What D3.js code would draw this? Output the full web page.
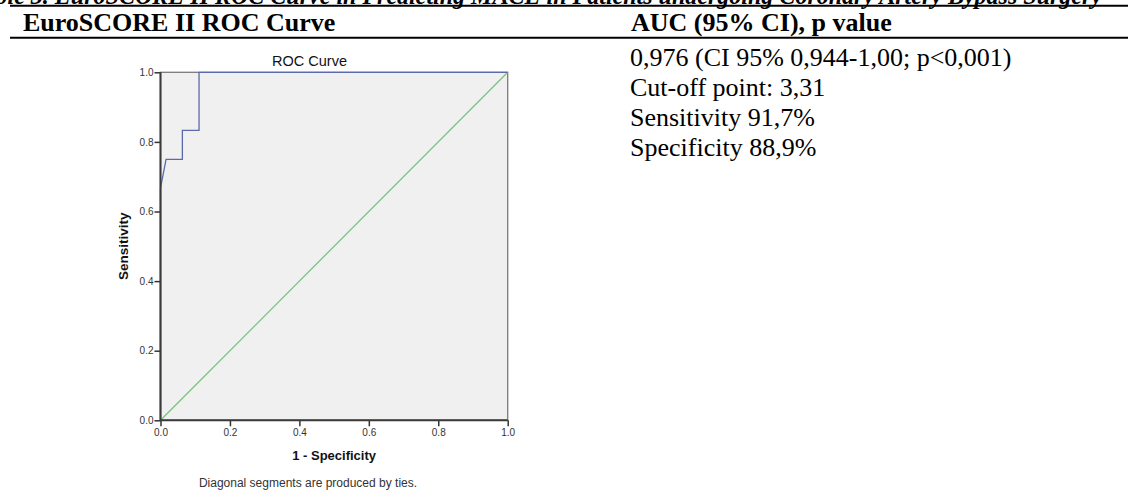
<!DOCTYPE html>
<html>
<head>
<meta charset="utf-8">
<script src="https://cdn.jsdelivr.net/npm/d3@7"></script>
<style>
  html, body { margin: 0; padding: 0; background: #fff; }
  svg { display: block; }
</style>
</head>
<body>
<div id="chart"></div>
<script>
// ---- data ----
var captionText = "Table 3. EuroSCORE II ROC Curve in Predicting MACE in Patients undergoing Coronary Artery Bypass Surgery";
var headers = ["EuroSCORE II ROC Curve", "AUC (95% CI), p value"];
var statLines = [
    "0,976 (CI 95% 0,944-1,00; p<0,001)",
    "Cut-off point: 3,31",
    "Sensitivity 91,7%",
    "Specificity 88,9%"
];
var fpr = [0, 0, 0.016, 0.063, 0.063, 0.111, 0.111, 1];      // 1 - specificity
var tpr = [0, 0.667, 0.75, 0.75, 0.833, 0.833, 1, 1];         // sensitivity
var refFpr = [0, 1];
var refTpr = [0, 1];
var tickValues = [0, 0.2, 0.4, 0.6, 0.8, 1.0];
var chartTitle = "ROC Curve";
var xTitle = "1 - Specificity";
var yTitle = "Sensitivity";
var footnote = "Diagonal segments are produced by ties.";

var W = 1128, H = 490;
var serif = "'Liberation Serif', 'Times New Roman', serif";
var sans = "'Liberation Sans', Arial, sans-serif";

var svg = d3.select("#chart").append("svg")
    .attr("width", W)
    .attr("height", H);

// ---- table header ----
svg.append("text")
    .attr("x", -29)
    .attr("y", 4)
    .attr("textLength", 1131)
    .attr("lengthAdjust", "spacingAndGlyphs")
    .style("font-family", serif)
    .style("font-size", "26px")
    .style("font-weight", "bold")
    .style("font-style", "italic")
    .text(captionText);

svg.append("line")
    .attr("x1", 10).attr("x2", W)
    .attr("y1", 5.7).attr("y2", 5.7)
    .attr("stroke", "#000").attr("stroke-width", 2);

svg.append("line")
    .attr("x1", 10).attr("x2", W)
    .attr("y1", 37.7).attr("y2", 37.7)
    .attr("stroke", "#000").attr("stroke-width", 2);

svg.selectAll(".hdr").data(headers)
    .enter().append("text")
    .attr("class", "hdr")
    .attr("x", function (d, i) { return i == 0 ? 23 : 631; })
    .attr("y", 31)
    .style("font-family", serif)
    .style("font-size", "26px")
    .style("font-weight", "bold")
    .text(function (d) { return d; });

svg.selectAll(".stat").data(statLines)
    .enter().append("text")
    .attr("class", "stat")
    .attr("x", 630)
    .attr("y", function (d, i) { return 65.5 + i * 30; })
    .style("font-family", serif)
    .style("font-size", "26px")
    .text(function (d) { return d; });

// ---- ROC chart ----
var x = d3.scaleLinear().domain([0, 1]).range([160.5, 507.7]);
var y = d3.scaleLinear().domain([0, 1]).range([420.3, 72.3]);

var g = svg.append("g");

// plot background + frame (top/right lighter)
g.append("rect")
    .attr("x", x(0)).attr("y", y(1))
    .attr("width", x(1) - x(0)).attr("height", y(0) - y(1))
    .attr("fill", "#f0f0f0")
    .attr("stroke", "#7a7a7a")
    .attr("stroke-width", 1.3);

// diagonal reference
var line = d3.line()
    .x(function (d) { return x(d[0]); })
    .y(function (d) { return y(d[1]); });

g.append("path")
    .datum(refFpr.map(function (d, i) { return [d, refTpr[i]]; }))
    .attr("d", line)
    .attr("fill", "none")
    .attr("stroke", "#7cc37e")
    .attr("stroke-width", 1.3);

// ROC curve
g.append("path")
    .datum(fpr.map(function (d, i) { return [d, tpr[i]]; }))
    .attr("d", line)
    .attr("fill", "none")
    .attr("stroke", "#5a6aaa")
    .attr("stroke-width", 1.3);

// axes
var fmt = d3.format(".1f");
var xAxis = g.append("g")
    .attr("transform", "translate(0," + y(0) + ")")
    .call(d3.axisBottom(x).tickValues(tickValues).tickFormat(fmt).tickSize(6).tickPadding(3));
var yAxis = g.append("g")
    .attr("transform", "translate(" + x(0) + ",0)")
    .call(d3.axisLeft(y).tickValues(tickValues).tickFormat(fmt).tickSize(6).tickPadding(1));

[xAxis, yAxis].forEach(function (ax) {
    ax.select(".domain").remove();
    ax.selectAll("line").attr("stroke", "#333").attr("stroke-width", 1.5);
    ax.selectAll("text")
        .style("font-family", sans)
        .style("font-size", "10px")
        .attr("fill", "#333");
});

g.append("line")
    .attr("x1", x(0)).attr("x2", x(1))
    .attr("y1", y(0)).attr("y2", y(0))
    .attr("stroke", "#3a3a3a").attr("stroke-width", 2);
g.append("line")
    .attr("x1", x(0)).attr("x2", x(0))
    .attr("y1", y(0)).attr("y2", y(1))
    .attr("stroke", "#3a3a3a").attr("stroke-width", 2);

// titles
g.append("text")
    .attr("x", 309.5)
    .attr("y", 66)
    .attr("text-anchor", "middle")
    .style("font-family", sans)
    .style("font-size", "14.5px")
    .attr("fill", "#111")
    .text(chartTitle);

g.append("text")
    .attr("x", (x(0) + x(1)) / 2)
    .attr("y", 460)
    .attr("text-anchor", "middle")
    .style("font-family", sans)
    .style("font-size", "13px")
    .style("font-weight", "bold")
    .attr("fill", "#111")
    .text(xTitle);

g.append("text")
    .attr("transform", "translate(128," + (y(0) + y(1)) / 2 + ") rotate(-90)")
    .attr("text-anchor", "middle")
    .style("font-family", sans)
    .style("font-size", "13.5px")
    .style("font-weight", "bold")
    .attr("fill", "#111")
    .text(yTitle);

g.append("text")
    .attr("x", 308)
    .attr("y", 486.5)
    .attr("text-anchor", "middle")
    .style("font-family", sans)
    .style("font-size", "12px")
    .attr("fill", "#333")
    .text(footnote);
</script>
</body>
</html>
